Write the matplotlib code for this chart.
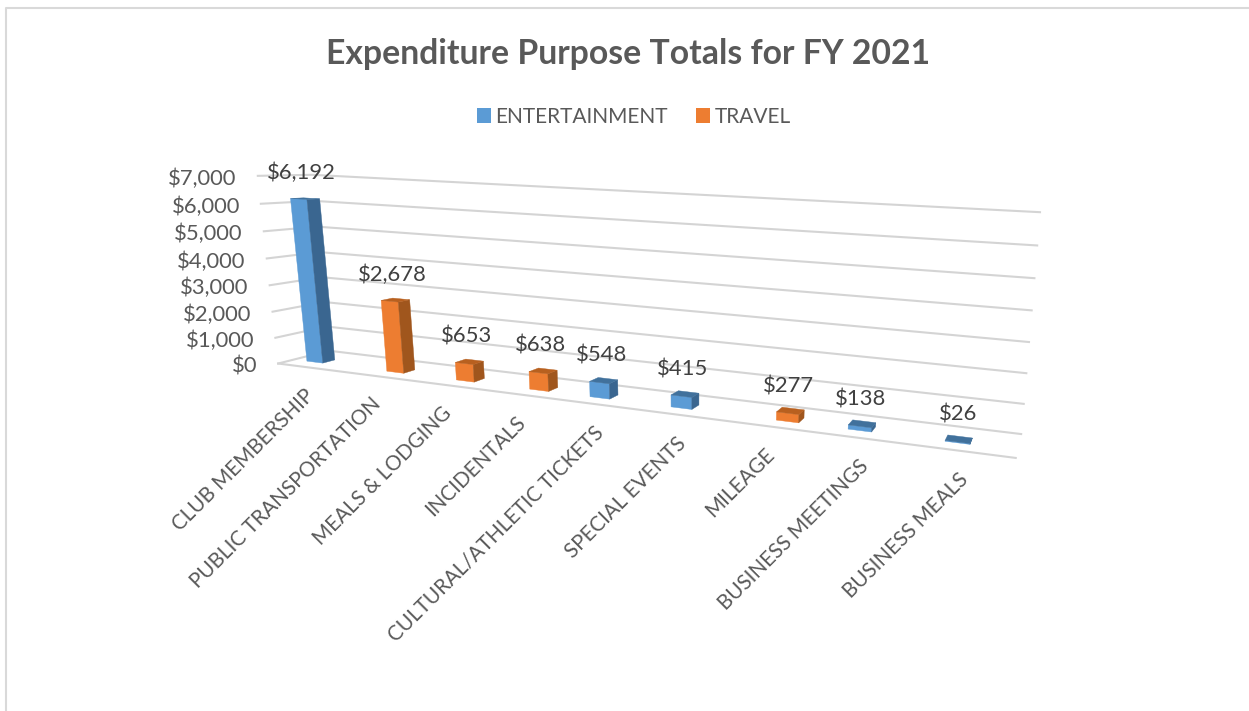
import matplotlib
matplotlib.use('Agg')
import matplotlib.pyplot as plt
from matplotlib.patches import Polygon, Patch
import numpy as np

plt.rcParams['font.family'] = ['Lato', 'DejaVu Sans']

categories = ['CLUB MEMBERSHIP', 'PUBLIC TRANSPORTATION', 'MEALS & LODGING', 'INCIDENTALS',
              'CULTURAL/ATHLETIC TICKETS', 'SPECIAL EVENTS', 'MILEAGE', 'BUSINESS MEETINGS',
              'BUSINESS MEALS']
values = [6192, 2678, 653, 638, 548, 415, 277, 138, 26]
series = ['ENTERTAINMENT', 'TRAVEL', 'TRAVEL', 'TRAVEL', 'ENTERTAINMENT', 'ENTERTAINMENT',
          'TRAVEL', 'ENTERTAINMENT', 'ENTERTAINMENT']
yticks = [0, 1000, 2000, 3000, 4000, 5000, 6000, 7000]

colors = {'ENTERTAINMENT': ('#5B9BD5', '#41719C', '#3A6690'),
          'TRAVEL': ('#ED7D31', '#B8601F', '#A0561D')}
grey = '#595959'
dark = '#404040'

# camera for the fake 3d box, fitted on its corners: (cat, depth, value) -> pixel
box = [(0, 0, 0), (9, 0, 0), (0, 1, 0), (9, 1, 0), (0, 1, 7000), (9, 1, 7000), (0, 0, 7000)]
pix = [(277, 362), (1017, 456), (330, 352), (1020, 436), (312, 172), (1040, 212), (258, 179)]
rows = []
rhs = []
for (a, b, c), (u, v) in zip(box, pix):
    c = c / 7000
    rows.append([a, b, c, 1, 0, 0, 0, 0, -u * a, -u * b, -u * c])
    rows.append([0, 0, 0, 0, a, b, c, 1, -v * a, -v * b, -v * c])
    rhs += [u, v]
cam = np.linalg.lstsq(np.array(rows, float), np.array(rhs, float), rcond=None)[0]
cam = np.append(cam, 1).reshape(3, 4)


def project(x, y, z):
    p = cam @ np.array([x, y, z / 7000, 1])
    return p[0] / p[2], p[1] / p[2]


fig = plt.figure(figsize=(12.49, 7.11), dpi=100)
ax = fig.add_axes([0, 0, 1, 1])
ax.set_xlim(0, 1249)
ax.set_ylim(711, 0)
ax.axis('off')

# chart border, no right side in the screenshot
ax.plot([6, 6, 1249], [711, 8, 8], color='#d9d9d9', lw=1.5)

# walls
for t in yticks:
    pts = [project(0, 0, t), project(0, 1, t), project(9, 1, t)]
    ax.plot(*zip(*pts), color='#d4d4d4', lw=1.5, solid_joinstyle='miter', zorder=1)
    x0, y0 = project(0, 0, t)
    ax.text(x0 - 21, y0 + 3, '${:,}'.format(t), ha='right', va='center', fontsize=15.8, color=grey)
ax.plot(*zip(project(0, 0, 0), project(9, 0, 0)), color='#d4d4d4', lw=1.5, zorder=1)

# bars
bar_w = 0.25
bar_d = (0.3, 0.54)
for i, (cat, val, ser) in enumerate(zip(categories, values, series)):
    off = -0.12 if ser == 'ENTERTAINMENT' else 0.1
    xc = 0.45 + i * 1.01 + off
    x0 = xc - bar_w / 2
    x1 = x0 + bar_w
    y0, y1 = bar_d
    front, top, side = colors[ser]
    faces = [([(x0, y0, 0), (x1, y0, 0), (x1, y0, val), (x0, y0, val)], front),
             ([(x1, y0, 0), (x1, y1, 0), (x1, y1, val), (x1, y0, val)], side),
             ([(x0, y0, val), (x1, y0, val), (x1, y1, val), (x0, y1, val)], top)]
    for pts, c in faces:
        ax.add_patch(Polygon([project(*p) for p in pts], closed=True, fc=c, ec=c, lw=0.3, zorder=3))
    lx, ly = project(xc, 0.35, val)
    ax.text(lx, ly - 26, '${:,}'.format(val), ha='center', va='center', fontsize=15.8,
            color=dark, zorder=4)
    # category labels hang off the front edge
    tx, ty = project(i + 0.5, 0, 0)
    ax.text(tx - 6, ty + 18, cat, rotation=45, rotation_mode='anchor', ha='right', va='top',
            fontsize=14.9, color=grey, zorder=4)

ax.text(628, 54, 'Expenditure Purpose Totals for FY 2021', ha='center', va='center',
        fontsize=24.3, fontweight='bold', color=grey)

handles = [Patch(fc=colors[k][0], label=k) for k in ['ENTERTAINMENT', 'TRAVEL']]
ax.legend(handles=handles, ncol=2, loc='center', bbox_to_anchor=(634, 117), bbox_transform=ax.transData,
          frameon=False, fontsize=15, labelcolor=grey, handlelength=0.67, handleheight=0.7,
          handletextpad=0.24, columnspacing=1.35)

fig.savefig('out.png', dpi=100)
